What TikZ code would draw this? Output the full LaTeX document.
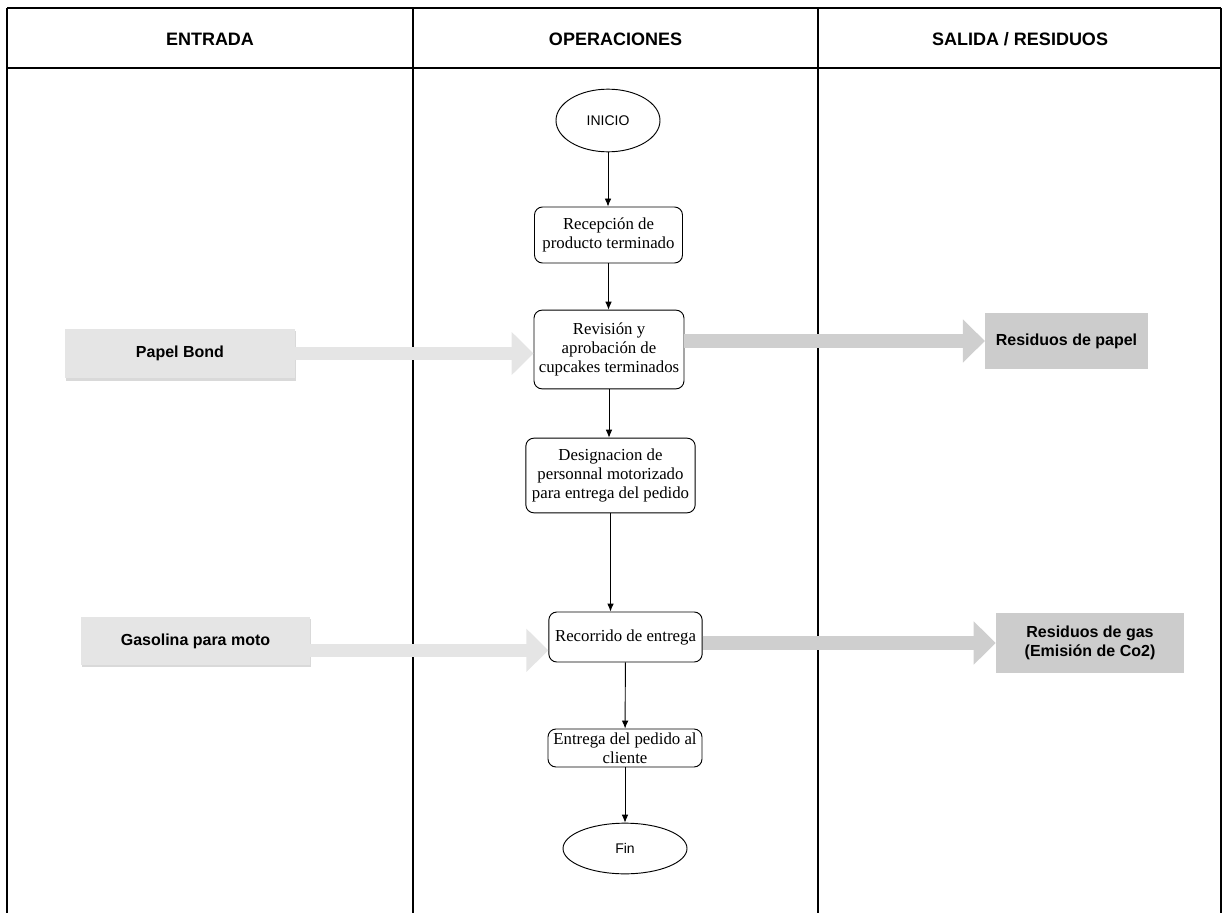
\documentclass[tikz,border=0pt]{standalone}
\usepackage{fontspec}
\setmainfont{Liberation Serif}
\setsansfont{Liberation Sans}
\usetikzlibrary{positioning,shapes.geometric,arrows.meta,shadows}

\tikzset{
  lane/.style={line width=0.8pt},
  lanetitle/.style={font=\sffamily\bfseries\fontsize{13.5}{15}\selectfont},
  opbox/.style={draw, rounded corners=6pt, align=center, inner sep=1pt, line width=0.7pt,
    font=\fontsize{12.6}{14.2}\selectfont},
  terminal/.style={draw, ellipse, line width=0.7pt, font=\sffamily\fontsize{10.5}{12}\selectfont},
  inbox/.style={fill=gray!20, font=\sffamily\bfseries\fontsize{12}{14}\selectfont,
    drop shadow={shadow xshift=0.6pt, shadow yshift=-1.8pt, opacity=0.3}},
  outbox/.style={fill=gray!40, align=center, font=\sffamily\bfseries\fontsize{12}{14}\selectfont},
  flow/.style={-{Latex[length=6pt,width=5pt]}, line width=0.7pt},
  inarrow/.style={draw=gray!20, line width=10pt, -{Triangle[length=16.5pt,width=31.5pt]}},
  outarrow/.style={draw=gray!38, line width=10pt, -{Triangle[length=16.5pt,width=31.5pt]}}
}

\begin{document}
\begin{tikzpicture}[x=0.75pt,y=-0.75pt]
 \useasboundingbox (0,0) rectangle (1224,913);
 % lanes
 \draw[lane] (7,913) -- (7,8);
 \draw[lane] (1221,8) -- (1221,913);
 \draw[lane] (413,8) -- (413,913);
 \draw[lane] (818,8) -- (818,913);
 \draw[line width=1.1pt] (7,8) -- (1221,8);
 \draw[line width=1.4pt] (7,68) -- (1221,68);
 \node[lanetitle] (tin) at (210,39) {ENTRADA};
 \node[lanetitle] (tops) at (615.5,39) {OPERACIONES};
 \node[lanetitle] (tout) at (1020,39) {SALIDA / RESIDUOS};

 % operaciones
 \node[terminal, minimum width=78pt, minimum height=47pt] (inicio) at (608,120.5) {INICIO};
 \node[opbox, minimum width=111pt, minimum height=42pt] (recep) at (608.5,235)
   {Recepción de\\producto terminado};
 \node[opbox, minimum width=112.5pt, minimum height=59pt] (rev) at (609,349.5)
   {Revisión y\\aprobación de\\cupcakes terminados};
 \node[opbox, minimum width=127pt, minimum height=56pt] (desig) at (610.5,475.5)
   {Designacion de\\personnal motorizado\\para entrega del pedido};
 \node[opbox, minimum width=115pt, minimum height=37.5pt] (rec) at (625.5,637)
   {Recorrido de entrega};
 \node[opbox, minimum width=115.5pt, minimum height=28.5pt] (entrega) at (625,748)
   {Entrega del pedido al\\cliente};
 \node[terminal, minimum width=93pt, minimum height=38pt] (fin) at (625,848.5) {Fin};

 \draw[flow] (inicio) -- (inicio |- recep.north);
 \draw[flow] (recep) -- (recep |- rev.north);
 \draw[flow] (rev) -- (rev |- desig.north);
 \draw[flow] (desig) -- (desig |- rec.north);
 \draw[flow] (rec) -- (entrega);
 \draw[flow] (entrega) -- (fin);

 % entradas
 \node[inbox, minimum width=172.5pt, minimum height=37pt] (papel) at (180,353.5) {Papel Bond};
 \node[inbox, minimum width=172pt, minimum height=36pt] (gas) at (195.5,641) {Gasolina para moto};
 \draw[inarrow] (papel.east) -- (papel.east -| rev.west);
 \draw[inarrow] ([yshift=-7pt]gas.east) -- ([yshift=-7pt]gas.east -| rec.west);

 % salidas
 \node[outbox, minimum width=122pt, minimum height=42pt] (respapel) at (1066.5,341) {Residuos de papel};
 \node[outbox, minimum width=141pt, minimum height=45pt] (resgas) at (1090,643)
   {Residuos de gas\\(Emisión de Co2)};
 \draw[outarrow] (rev.east |- respapel.west) -- (respapel.west);
 \draw[outarrow] (rec.east |- resgas.west) -- (resgas.west);
\end{tikzpicture}
\end{document}
